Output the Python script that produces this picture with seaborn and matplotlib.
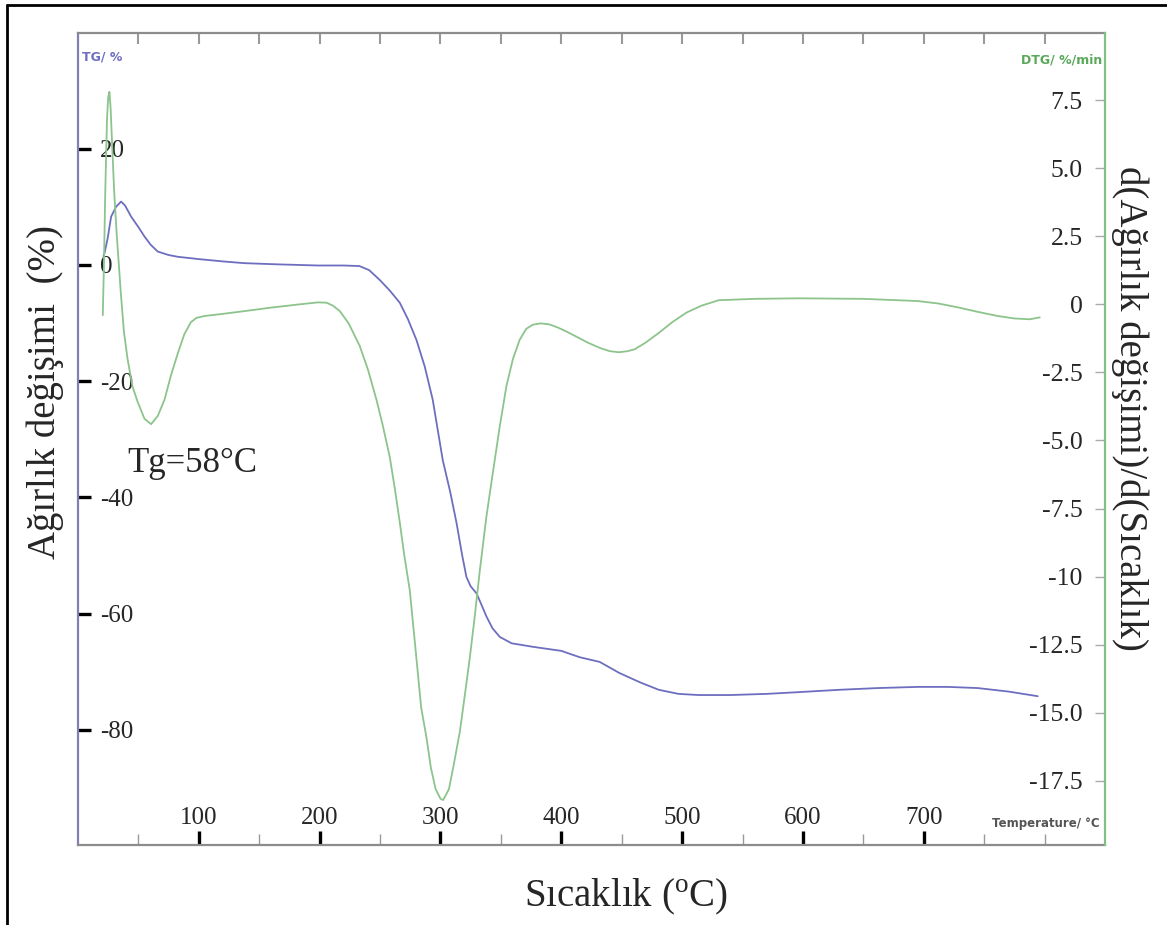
import matplotlib
matplotlib.use("Agg")
import matplotlib.pyplot as plt
import seaborn as sns
import pandas as pd
from matplotlib.lines import Line2D
from matplotlib.ticker import FixedLocator, FixedFormatter

# ---------------- data ----------------
temp_tg = [21, 22, 24.5, 27.4, 31.5, 35.7, 39, 44, 50, 55, 60, 66, 75, 82.6, 100, 120,
           137.8, 165, 198.5, 220, 233, 241, 249.8, 258, 266.3, 273, 280.1, 287, 293.6,
           301.9, 308, 313.3, 318, 321.5, 325, 329.8, 334, 338.1, 343, 349.1, 358.9,
           376.4, 400, 415.3, 431.8, 448, 465, 480.7, 497, 513.8, 540, 570, 596.5, 630,
           661.9, 695, 720, 744.7, 770, 794.3]
tg = [1.5, 2.1, 4.5, 8.3, 10.0, 10.9, 10.2, 8.3, 6.5, 4.9, 3.5, 2.3, 1.7, 1.4, 1.0, 0.6,
      0.3, 0.1, -0.1, -0.1, -0.2, -0.9, -2.6, -4.4, -6.5, -9.3, -12.9, -17.5, -23.2,
      -33.6, -39.0, -44.4, -50.0, -53.7, -55.3, -56.5, -58.5, -60.5, -62.5, -64.0, -65.1,
      -65.7, -66.4, -67.5, -68.3, -70.2, -71.8, -73.1, -73.8, -74.0, -74.0, -73.8, -73.5,
      -73.1, -72.8, -72.6, -72.6, -72.8, -73.4, -74.2]

temp_dtg = [20.5, 21.5, 22.5, 24, 25, 26, 27, 28.5, 30, 32, 35.4, 38, 41, 45, 49.5, 55,
            60.5, 66, 71.6, 77, 82.6, 88, 93.4, 98, 104.7, 120, 137.8, 160, 183.6, 198.5,
            205.7, 211, 216.7, 224, 233.2, 240, 247, 252, 258, 262, 266.3, 270, 274.6,
            280.1, 284, 288.4, 292, 296, 300, 302.2, 307, 311, 316, 320, 324.2, 328,
            332.5, 338, 343.3, 349, 354.6, 360, 365.6, 371, 376.4, 383, 390.4, 397, 404.3,
            413, 421.6, 431.8, 440, 447.6, 455, 460.8, 470, 480.7, 492, 503.8, 516, 530.3,
            560, 596.5, 650, 695, 712, 728, 745, 761.3, 775, 787.8, 796]
dtg = [-0.4, 1.5, 4.0, 6.8, 7.6, 7.8, 7.2, 5.6, 4.1, 2.6, 0.44, -1.0, -2.0, -3.0, -3.6,
       -4.2, -4.4, -4.1, -3.5, -2.6, -1.8, -1.1, -0.66, -0.5, -0.43, -0.35, -0.25, -0.12,
       0.0, 0.07, 0.06, -0.05, -0.25, -0.7, -1.53, -2.4, -3.5, -4.4, -5.6, -6.7, -8.0,
       -9.2, -10.5, -13.0, -14.8, -15.9, -17.0, -17.8, -18.15, -18.2, -17.8, -16.9, -15.7,
       -14.4, -13.0, -11.6, -9.8, -7.8, -6.2, -4.5, -3.0, -2.0, -1.3, -0.9, -0.75, -0.7,
       -0.74, -0.85, -1.0, -1.2, -1.4, -1.6, -1.72, -1.76, -1.72, -1.65, -1.4, -1.05,
       -0.65, -0.3, -0.05, 0.15, 0.2, 0.22, 0.2, 0.12, 0.03, -0.11, -0.28, -0.43, -0.52,
       -0.55, -0.48]

x_major = [100, 200, 300, 400, 500, 600, 700]
x_minor = [50, 150, 250, 350, 450, 550, 650, 750, 800]
x_top = [50, 100, 150, 200, 250, 300, 350, 400, 450, 500, 550, 600, 650, 700, 750, 800]
tg_ticks = [20, 0, -20, -40, -60, -80]
dtg_ticks = [7.5, 5.0, 2.5, 0, -2.5, -5.0, -7.5, -10, -12.5, -15.0, -17.5]
dtg_labels = ["7.5", "5.0", "2.5", "0", "-2.5", "-5.0", "-7.5", "-10", "-12.5", "-15.0", "-17.5"]

BLUE = "#6e6ec0"
GREEN = "#8cc48c"

sns.set_style("white")
plt.rcParams["font.family"] = ["Liberation Serif", "DejaVu Serif"]
plt.rcParams["axes.unicode_minus"] = False
plt.rcParams["mathtext.fontset"] = "custom"
plt.rcParams["mathtext.rm"] = "Liberation Serif"
plt.rcParams["mathtext.it"] = "Liberation Serif:italic"

fig = plt.figure(figsize=(11.67, 9.25), dpi=100)
ax = fig.add_axes([78 / 1167, 1 - 845 / 925, 1027 / 1167, 812 / 925])
ax2 = ax.twinx()

df_tg = pd.DataFrame({"T": temp_tg, "TG": tg})
df_dtg = pd.DataFrame({"T": temp_dtg, "DTG": dtg})
sns.lineplot(data=df_tg, x="T", y="TG", ax=ax, color=BLUE, lw=1.3, sort=False, estimator=None)
sns.lineplot(data=df_dtg, x="T", y="DTG", ax=ax2, color=GREEN, lw=1.3, sort=False, estimator=None)

ax.set_xlim(0, 850)
ax.set_ylim(-99.8, 39.9)
ax2.set_ylim(-19.85, 9.96)
ax.set_xlabel("")
ax.set_ylabel("")
ax2.set_ylabel("")

# spines
for s in ax.spines.values():
    s.set_linewidth(1.6)
ax.spines["top"].set_color("#8c8c8c")
ax.spines["bottom"].set_color("#8c8c8c")
ax.spines["left"].set_color("#8080b4")
ax.spines["right"].set_visible(False)
for k in ["left", "top", "bottom"]:
    ax2.spines[k].set_visible(False)
ax2.spines["right"].set_color("#80c080")
ax2.spines["right"].set_linewidth(1.6)

# x ticks (bottom) - labels inside the axes
ax.xaxis.set_major_locator(FixedLocator(x_major))
ax.xaxis.set_minor_locator(FixedLocator(x_minor))
ax.tick_params(axis="x", which="major", direction="in", length=10, width=2.4, color="black",
               labelsize=18, pad=-27, bottom=True, top=False)
ax.tick_params(axis="x", which="minor", direction="in", length=8, width=1.0, color="#999999",
               bottom=True, top=False)

# top ticks
sec = ax.secondary_xaxis("top")
sec.set_xticks(x_top)
sec.tick_params(direction="in", length=8, width=1.5, color="#999999", labeltop=False)
sec.spines["top"].set_visible(False)

# left (TG) ticks - labels inside
ax.set_yticks(tg_ticks)
ax.tick_params(axis="y", which="major", direction="in", length=9, width=2.4, color="black",
               labelsize=18, pad=-16, left=True, right=False)
for lab in ax.get_yticklabels():
    lab.set_horizontalalignment("left")

# right (DTG) ticks - labels inside
ax2.yaxis.set_major_locator(FixedLocator(dtg_ticks))
ax2.yaxis.set_major_formatter(FixedFormatter(dtg_labels))
ax2.tick_params(axis="y", which="major", direction="in", length=7, width=1.0, color="#aaaaaa",
                labelsize=18.5, pad=-16, right=True, left=False)
for lab in ax2.get_yticklabels():
    lab.set_horizontalalignment("right")

# instrument labels
ax.text(0.004, 0.979, "TG/ %", transform=ax.transAxes, color=BLUE, fontsize=9,
        fontweight="bold", family="DejaVu Sans", va="top", ha="left")
ax2.text(0.997, 0.975, "DTG/ %/min", transform=ax2.transAxes, color="#5aa85a", fontsize=9,
         fontweight="bold", family="DejaVu Sans", va="top", ha="right")
ax.text(0.995, 0.027, "Temperature/ \u00b0C", transform=ax.transAxes, color="#555555",
        fontsize=8.5, fontweight="bold", family="DejaVu Sans", va="center", ha="right")

# Tg annotation
ax.text(40.4, -34.1, "Tg=58\u00b0C", fontsize=25, va="center", ha="left")

# axis titles
fig.text(45 / 1167, 1 - 392 / 925, "Ağırlık değişimi  (%)", rotation=90, fontsize=28,
         ha="center", va="center")
fig.text(1130 / 1167, 1 - 408 / 925, "d(Ağırlık değişimi)/d(Sıcaklık)", rotation=270,
         fontsize=28, ha="center", va="center")
fig.text(626 / 1167, 1 - 897 / 925, "Sıcaklık ($^{\\rm o}$C)", fontsize=28,
         ha="center", va="center")

# outer frame (top and left)
fig.add_artist(Line2D([7 / 1167, 1.0], [1 - 4.5 / 925, 1 - 4.5 / 925], color="black",
                      lw=2.0, transform=fig.transFigure))
fig.add_artist(Line2D([7 / 1167, 7 / 1167], [0.0, 1 - 4.5 / 925], color="black",
                      lw=2.0, transform=fig.transFigure))

fig.savefig("out.png", dpi=100)
